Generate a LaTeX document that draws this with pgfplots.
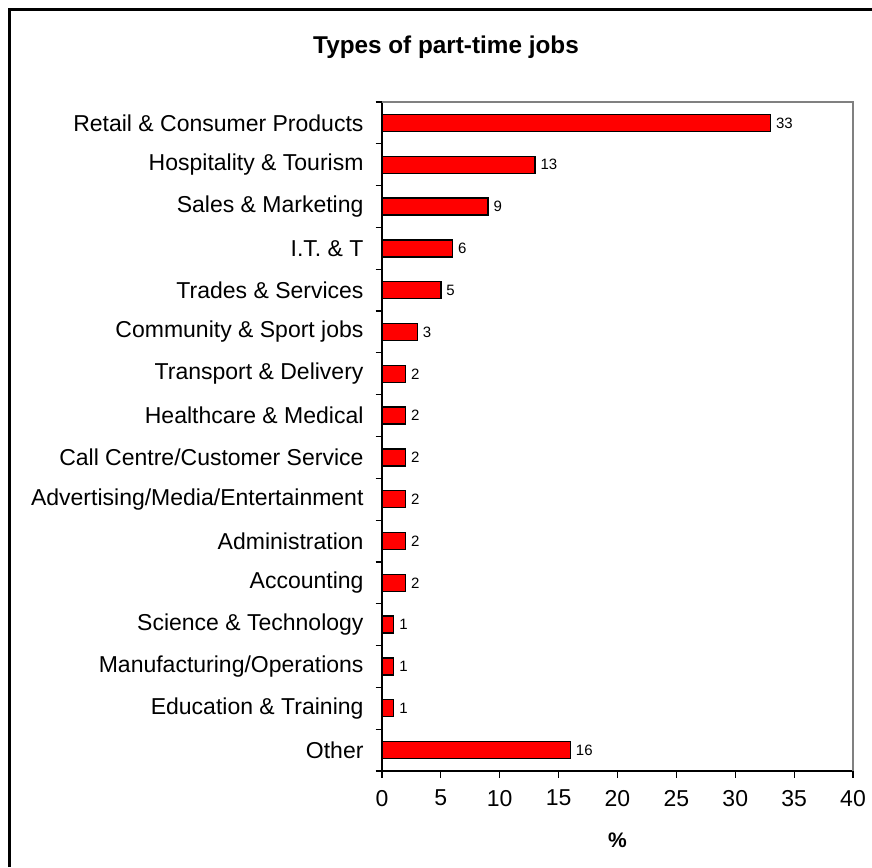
\documentclass[border=0pt]{standalone}
\usepackage{fontspec}
\setmainfont{Liberation Sans}
\usepackage{pgfplots}
\pgfplotsset{compat=1.18}
\begin{document}
\begin{tikzpicture}
\useasboundingbox (0,0) rectangle (872pt,867pt);
\draw[line width=3pt] (9.5pt,0pt) -- (9.5pt,857.5pt) -- (872pt,857.5pt);
\node[font=\fontsize{24.3}{28}\selectfont\bfseries] at (446pt,820pt) {Types of part-time jobs};
\begin{axis}[
  at={(382pt,96pt)}, anchor=south west, scale only axis,
  width=471pt, height=669pt,
  xbar, bar width=17pt,
  xmin=0, xmax=40, ymin=-0.5, ymax=15.5, y dir=reverse,
  axis x line*=bottom, axis y line*=left,
  axis line style={black, line width=1.2pt},
  /pgf/number format/assume math mode=true,
  xtick={0,5,...,40},
  ytick={-0.5,0.5,1.5,2.5,3.5,4.5,5.5,6.5,7.5,8.5,9.5,10.5,11.5,12.5,13.5,14.5,15.5},
  yticklabels={},
  extra y ticks={0,1,2,3,4,5,6,7,8,9,10,11,12,13,14,15},
  extra y tick labels={Retail \& Consumer Products,Hospitality \& Tourism,Sales \& Marketing,I.T. \& T,Trades \& Services,Community \& Sport jobs,Transport \& Delivery,Healthcare \& Medical,Call Centre/Customer Service,Advertising/Media/Entertainment,Administration,Accounting,Science \& Technology,Manufacturing/Operations,Education \& Training,Other},
  extra y tick style={major tick length=0pt},
  tick align=outside, major tick length=6.5pt,
  tick style={black, line width=1.2pt},
  ticklabel style={font=\fontsize{23}{27}\selectfont},
  yticklabel style={xshift=-15pt},
  xticklabel style={yshift=-9pt},
  xlabel={\textbf{\%}},
  xlabel style={font=\fontsize{21}{25}\selectfont, at={(axis description cs:0.5,0)}, anchor=center, yshift=-69pt},
  nodes near coords,
  nodes near coords style={font=\fontsize{15}{18}\selectfont, anchor=west, xshift=1.5pt},
  clip=false,
]
\addplot[fill=red, draw=black, line width=1.4pt] coordinates {
(33,0) (13,1) (9,2) (6,3) (5,4) (3,5) (2,6) (2,7) (2,8) (2,9) (2,10) (2,11) (1,12) (1,13) (1,14) (16,15)
};
\end{axis}
\draw[gray, line width=1.2pt] (382pt,765pt) -- (853pt,765pt) -- (853pt,96pt);
\end{tikzpicture}
\end{document}
